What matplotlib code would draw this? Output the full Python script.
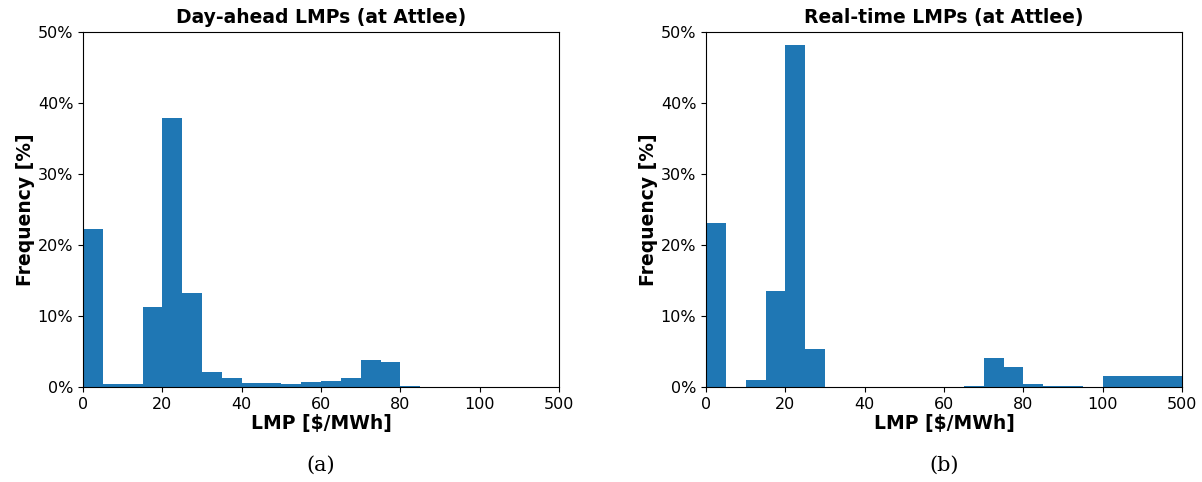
import numpy as np
import matplotlib.pyplot as plt
from matplotlib.ticker import PercentFormatter

# bin edges in display units; last bin (100-500 $/MWh) drawn 20 wide
bin_edges = [0, 5, 10, 15, 20, 25, 30, 35, 40, 45, 50, 55, 60, 65, 70, 75, 80,
             85, 90, 95, 100, 120]
tick_pos = [0, 20, 40, 60, 80, 100, 120]
tick_labels = ["0", "20", "40", "60", "80", "100", "500"]

# frequency [%] per bin
day_ahead = [22.2, 0.4, 0.4, 11.3, 37.9, 13.3, 2.15, 1.25, 0.6, 0.6, 0.4,
             0.75, 0.9, 1.3, 3.85, 3.55, 0.15, 0.0, 0.0, 0.0, 0.0]
real_time = [23.1, 0.0, 0.95, 13.5, 48.2, 5.3, 0.0, 0.0, 0.0, 0.0, 0.0,
             0.0, 0.0, 0.1, 4.05, 2.8, 0.4, 0.1, 0.1, 0.0, 1.5]

titles = ["Day-ahead LMPs (at Attlee)", "Real-time LMPs (at Attlee)"]
captions = ["(a)", "(b)"]

fig = plt.figure(figsize=(12.02, 4.82), dpi=100)
axes = [fig.add_axes([83 / 1202, 95 / 482, 476 / 1202, 355 / 482]),
        fig.add_axes([706 / 1202, 95 / 482, 476 / 1202, 355 / 482])]

edges = np.array(bin_edges)
for ax, vals, title, cap in zip(axes, [day_ahead, real_time], titles, captions):
    ax.bar(edges[:-1], vals, width=np.diff(edges), align="edge", color="#1f77b4")
    ax.set_xlim(0, 120)
    ax.set_ylim(0, 50)
    ax.set_xticks(tick_pos)
    ax.set_xticklabels(tick_labels)
    ax.set_yticks([0, 10, 20, 30, 40, 50])
    ax.yaxis.set_major_formatter(PercentFormatter(decimals=0))
    ax.tick_params(labelsize=11.5)
    ax.set_title(title, fontsize=13.5, fontweight="bold", pad=6.5)
    ax.set_xlabel("LMP [$/MWh]", fontsize=13.5, fontweight="bold", labelpad=2)
    ax.set_ylabel("Frequency [%]", fontsize=13.5, fontweight="bold", labelpad=2)
    ax.text(0.5, -0.22, cap, transform=ax.transAxes, ha="center", va="center",
            fontsize=15, family="DejaVu Serif")

fig.savefig("out.png", dpi=100)
